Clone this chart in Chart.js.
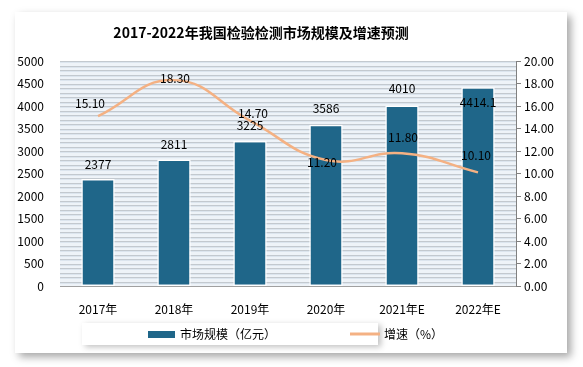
<!DOCTYPE html>
<html><head><meta charset="utf-8">
<script src="https://cdn.jsdelivr.net/npm/chart.js@4/dist/chart.umd.min.js"></script>
<style>html,body{margin:0;padding:0;background:#fff;}#wrap{position:relative;width:583px;height:367px;}</style>
</head><body><div id="wrap"><canvas id="c" width="583" height="367"></canvas></div>
<script>
const title = "2017-2022年我国检验检测市场规模及增速预测";
const categories = ["2017年","2018年","2019年","2020年","2021年E","2022年E"];
const marketSize = [2377, 2811, 3225, 3586, 4010, 4414.1];
const marketLabels = ["2377","2811","3225","3586","4010","4414.1"];
const growth = [15.10, 18.30, 14.70, 11.20, 11.80, 10.10];
const seriesNames = ["市场规模（亿元）", "增速（%）"];

const FONT = '"Noto Sans CJK SC", "DejaVu Sans", sans-serif';
const BAR = '#1F6689';
const LINE = '#F4B183';

const decor = {
  id: 'decor',
  beforeDraw(chart) {
    const ctx = chart.ctx, a = chart.chartArea;
    ctx.save();
    ctx.shadowColor = 'rgba(0,0,0,0.35)';
    ctx.shadowBlur = 8; ctx.shadowOffsetX = 4; ctx.shadowOffsetY = 4;
    ctx.fillStyle = '#fff';
    ctx.fillRect(15, 12, 552, 341);
    ctx.restore();
    ctx.save();
    ctx.fillStyle = '#EEF3F8';
    ctx.fillRect(a.left, a.top, a.right - a.left, a.bottom - a.top);
    for (let y = a.top; y < a.bottom; y += 4.5) {
      ctx.fillStyle = '#C3C9CF';
      ctx.fillRect(a.left, Math.round(y), a.right - a.left, 1);
      ctx.fillStyle = '#DCE5EE';
      ctx.fillRect(a.left, Math.round(y) + 1, a.right - a.left, 1);
    }
    ctx.restore();
    ctx.save();
    ctx.font = 'bold 14px ' + FONT;
    ctx.fillStyle = '#000';
    ctx.textAlign = 'center'; ctx.textBaseline = 'middle';
    ctx.fillText(title, 261, 33);
    ctx.restore();
    ctx.save();
    ctx.shadowColor = 'rgba(0,0,0,0.25)';
    ctx.shadowBlur = 6; ctx.shadowOffsetX = 3; ctx.shadowOffsetY = 2;
    ctx.fillStyle = '#fff';
    ctx.fillRect(82, 323, 296, 22);
    ctx.restore();
  },
  afterDraw(chart) {
    const ctx = chart.ctx;
    ctx.save();
    ctx.font = '12px ' + FONT;
    ctx.fillStyle = '#000';
    ctx.textBaseline = 'middle';
    const ly = 334;
    ctx.fillStyle = BAR;
    ctx.fillRect(148, ly - 3, 27, 7);
    ctx.fillStyle = '#000';
    ctx.fillText(chart.data.datasets[0].label, 180, ly);
    ctx.strokeStyle = LINE; ctx.lineWidth = 3;
    ctx.beginPath(); ctx.moveTo(350, ly); ctx.lineTo(380, ly); ctx.stroke();
    ctx.fillText(chart.data.datasets[1].label, 384, ly);
    ctx.restore();
  },
  afterDatasetsDraw(chart) {
    const ctx = chart.ctx;
    ctx.save();
    ctx.font = '12px ' + FONT;
    ctx.fillStyle = '#000';
    ctx.textAlign = 'center'; ctx.textBaseline = 'middle';
    const barOff = [-15, -15, -15, -16, -17, 15];
    chart.getDatasetMeta(0).data.forEach((el, i) => {
      ctx.fillText(marketLabels[i], el.x, el.y + barOff[i]);
    });
    const lineOff = [[-8,-13],[1,-2],[3,-7],[-4,2],[1,-16],[-2,-17]];
    chart.getDatasetMeta(1).data.forEach((el, i) => {
      ctx.fillText(growth[i].toFixed(2), el.x + lineOff[i][0], el.y + lineOff[i][1]);
    });
    ctx.restore();
  }
};

new Chart(document.getElementById('c'), {
  data: {
    labels: categories,
    datasets: [
      { type: 'bar', label: seriesNames[0], data: marketSize, yAxisID: 'y',
        backgroundColor: BAR, borderColor: '#fff', borderWidth: 1.5, borderSkipped: false,
        categoryPercentage: 1, barPercentage: 0.44, order: 1 },
      { type: 'line', label: seriesNames[1], data: growth, yAxisID: 'y2',
        borderColor: LINE, borderWidth: 2.5, tension: 0.45, pointRadius: 0, order: 0 }
    ]
  },
  options: {
    responsive: false, animation: false,
    layout: { padding: { top: 61, bottom: 51, left: 0, right: 0 } },
    plugins: { legend: { display: false }, tooltip: { enabled: false } },
    scales: {
      x: {
        grid: { display: false },
        border: { display: true, color: '#A0A0A0' },
        ticks: { color: '#000', font: { size: 12, family: FONT }, padding: 8 },
        afterFit(s) { s.height = 30; }
      },
      y: {
        position: 'left', min: 0, max: 5000,
        ticks: { stepSize: 500, color: '#000', font: { size: 12, family: FONT }, padding: 8,
          callback: v => String(v) },
        grid: { display: false }, border: { display: false },
        afterFit(s) { s.width = 60; }
      },
      y2: {
        position: 'right', min: 0, max: 20,
        ticks: { stepSize: 2, color: '#000', font: { size: 12, family: FONT }, padding: 3,
          callback: v => Number(v).toFixed(2) },
        grid: { drawOnChartArea: false, tickLength: 5, color: '#808080' },
        border: { display: true, color: '#808080' },
        afterFit(s) { s.width = 67; }
      }
    }
  },
  plugins: [decor]
});
</script></body></html>
